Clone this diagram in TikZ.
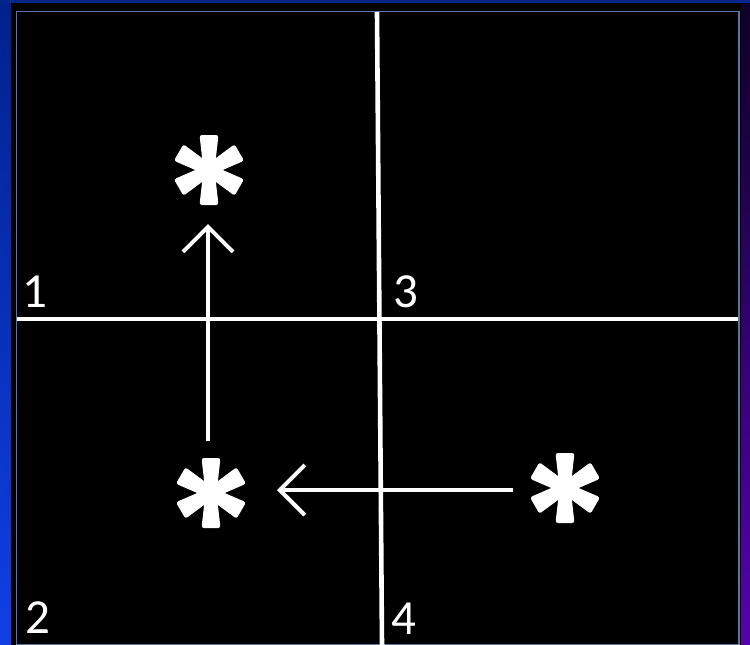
\documentclass[tikz,border=0pt]{standalone}
\usepackage{fontspec}
\setmainfont{Carlito}
\usetikzlibrary{arrows.meta,shadings}
\definecolor{bgUL}{RGB}{0,34,140}
\definecolor{bgUR}{RGB}{12,0,40}
\definecolor{bgLL}{RGB}{16,64,230}
\definecolor{bgLR}{RGB}{84,4,170}
\definecolor{bgTop}{RGB}{0,38,140}
\definecolor{framec}{RGB}{88,118,160}
\tikzset{
  wline/.style={white, line width=4.6pt},
  arr/.style={white, line width=4pt, -{Straight Barb[length=25pt,width=50pt,line width=4pt]}},
  lbl/.style={white, anchor=base west, inner sep=0pt, font=\fontsize{49}{52}\selectfont},
  aster/.pic={
    \foreach \a in {90,30,-30,-90,-150,150}{
      \fill[white, rotate=\a, rounded corners=2.5pt] (0,-5.5) -- (35,-9.5) -- (35,9.5) -- (0,5.5) -- cycle;
    }
    \fill[white] (0,0) circle (8);
  }
}
\begin{document}
\begin{tikzpicture}[x=1pt,y=-1pt]
\useasboundingbox (0,0) rectangle (750,645);
\shade[upper left=bgUL, upper right=bgUR, lower left=bgLL, lower right=bgLR] (0,0) rectangle (750,645);
\fill[bgTop] (0,0) rectangle (750,3);
\fill[black] (11,3) rectangle (741,646);
\draw[framec, line width=1.5pt] (16.5,11.5) rectangle (739,644.5);
% grid lines
\coordinate (vt) at (377,12);
\coordinate (vb) at (382,645);
\coordinate (hl) at (17,319);
\coordinate (hr) at (738,319);
\draw[wline] (vt) -- (vb);
\draw[wline] (hl) -- (hr);
% labels
\node[lbl] (n1) at (22,307) {1};
\node[lbl] (n3) at (393,307) {3};
\node[lbl] (n2) at (25,633) {2};
\node[lbl] (n4) at (391,634) {4};
% asterisks
\coordinate (s1) at (209,170);
\coordinate (s2) at (211,493);
\coordinate (s3) at (565,488);
\pic at (s1) {aster};
\pic at (s2) {aster};
\pic at (s3) {aster};
% arrows
\coordinate (v1) at (208,441);
\coordinate (v2) at (208,224);
\coordinate (h1) at (513,490);
\coordinate (h2) at (277,490);
\draw[arr] (v1) -- (v2);
\draw[arr] (h1) -- (h2);
\end{tikzpicture}
\end{document}
